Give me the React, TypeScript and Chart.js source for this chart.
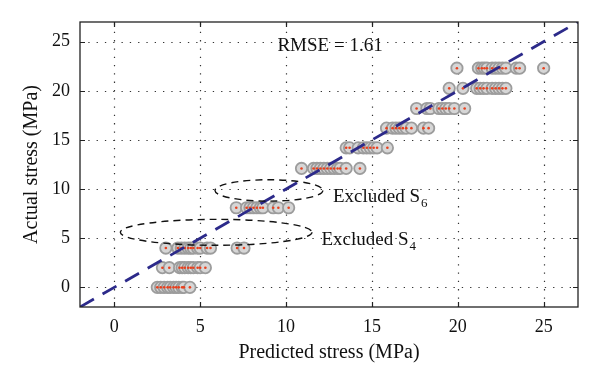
import React, { useEffect, useRef } from "react";
import { Chart, registerables } from "chart.js";

Chart.register(...registerables);

// ---- data ----
const xTicks = [0, 5, 10, 15, 20, 25];
const yTicks = [0, 5, 10, 15, 20, 25];
const axisMin = -2;
const axisMax = 27;

const actualLevels = [0, 2, 4, 8.1, 12.1, 14.2, 16.2, 18.2, 20.25, 22.3];
const predictedAt0 = [2.5, 2.7, 2.9, 3.1, 3.25, 3.45, 3.6, 3.75, 3.95, 4.05, 4.4];
const predictedAt2 = [2.8, 3.2, 3.8, 3.95, 4.1, 4.3, 4.45, 4.6, 4.85, 5.0, 5.3];
const predictedAt4 = [3.0, 3.7, 3.9, 4.1, 4.3, 4.45, 4.6, 4.85, 5.0, 5.4, 5.6, 7.15, 7.55];
const predictedAt8 = [7.1, 7.7, 7.9, 8.1, 8.3, 8.5, 8.65, 9.25, 9.55, 10.15];
const predictedAt12 = [10.9, 11.6, 11.8, 12.0, 12.2, 12.4, 12.6, 12.8, 13.0, 13.15, 13.5, 14.3];
const predictedAt14 = [13.5, 13.7, 14.2, 14.5, 14.7, 14.9, 15.1, 15.3, 15.9];
const predictedAt16 = [15.85, 16.2, 16.4, 16.6, 16.8, 17.0, 17.3, 18.0, 18.3];
const predictedAt18 = [17.6, 18.2, 18.4, 18.9, 19.1, 19.3, 19.5, 19.8, 20.4];
const predictedAt20 = [19.5, 20.3, 21.1, 21.3, 21.5, 21.7, 22.0, 22.2, 22.4, 22.6, 22.8];
const predictedAt22 = [19.95, 21.2, 21.4, 21.55, 21.7, 22.0, 22.2, 22.4, 22.6, 22.8, 23.4, 23.6, 25.0];
const predictedRows = [
  predictedAt0, predictedAt2, predictedAt4, predictedAt8, predictedAt12,
  predictedAt14, predictedAt16, predictedAt18, predictedAt20, predictedAt22,
];

const identityLine = [
  { x: axisMin, y: axisMin },
  { x: axisMax, y: axisMax },
];

const rmseText = "RMSE = 1.61";
const excludedLabel = "Excluded S";
const excludedS6Sub = "6";
const excludedS4Sub = "4";

// annotation geometry in data units
const ellipseS6 = { cx: 9.0, cy: 9.86, rx: 3.14, ry: 1.09 };
const ellipseS4 = { cx: 5.93, cy: 5.6, rx: 5.58, ry: 1.32 };
const rmsePos = { x: 12.56, y: 24.6 };
const s6LabelPos = { x: 12.73, y: 8.64 };
const s4LabelPos = { x: 12.06, y: 4.27 };

const FONT = "'Liberation Serif', 'DejaVu Serif', serif";

const points = predictedRows.flatMap((row, i) =>
  row.map((p) => ({ x: p, y: actualLevels[i] }))
);

const decorPlugin = {
  id: "decor",
  beforeDatasetsDraw(chart: any) {
    const { ctx, chartArea: a, scales } = chart;
    const xs = scales.x;
    const ys = scales.y;
    ctx.save();
    ctx.strokeStyle = "#333";
    ctx.lineWidth = 1.2;
    ctx.setLineDash([1.3, 7]);
    xTicks.forEach((v) => {
      const px = Math.round(xs.getPixelForValue(v)) + 0.5;
      ctx.beginPath();
      ctx.moveTo(px, a.bottom);
      ctx.lineTo(px, a.top);
      ctx.stroke();
    });
    yTicks.forEach((v) => {
      const py = Math.round(ys.getPixelForValue(v)) + 0.5;
      ctx.beginPath();
      ctx.moveTo(a.left, py);
      ctx.lineTo(a.right, py);
      ctx.stroke();
    });
    ctx.restore();
  },
  afterDatasetsDraw(chart: any) {
    const { ctx, chartArea: a, scales } = chart;
    const xs = scales.x;
    const ys = scales.y;
    ctx.save();
    // ellipses
    ctx.strokeStyle = "#111";
    ctx.lineWidth = 1.4;
    ctx.setLineDash([7, 5]);
    [ellipseS6, ellipseS4].forEach((e) => {
      const cx = xs.getPixelForValue(e.cx);
      const cy = ys.getPixelForValue(e.cy);
      const rx = Math.abs(xs.getPixelForValue(e.cx + e.rx) - cx);
      const ry = Math.abs(ys.getPixelForValue(e.cy + e.ry) - cy);
      ctx.beginPath();
      ctx.ellipse(cx, cy, rx, ry, 0, 0, Math.PI * 2);
      ctx.stroke();
    });
    ctx.setLineDash([]);
    // frame
    ctx.strokeStyle = "#222";
    ctx.lineWidth = 1.3;
    ctx.strokeRect(a.left, a.top, a.right - a.left, a.bottom - a.top);
    // inward ticks
    const tl = 5;
    ctx.lineWidth = 1.2;
    xTicks.forEach((v) => {
      const px = Math.round(xs.getPixelForValue(v)) + 0.5;
      ctx.beginPath();
      ctx.moveTo(px, a.bottom);
      ctx.lineTo(px, a.bottom - tl);
      ctx.moveTo(px, a.top);
      ctx.lineTo(px, a.top + tl);
      ctx.stroke();
    });
    yTicks.forEach((v) => {
      const py = Math.round(ys.getPixelForValue(v)) + 0.5;
      ctx.beginPath();
      ctx.moveTo(a.left, py);
      ctx.lineTo(a.left + tl, py);
      ctx.moveTo(a.right, py);
      ctx.lineTo(a.right - tl, py);
      ctx.stroke();
    });
    // texts
    ctx.fillStyle = "#111";
    ctx.font = `19px ${FONT}`;
    ctx.textAlign = "center";
    ctx.textBaseline = "middle";
    ctx.fillText(rmseText, xs.getPixelForValue(rmsePos.x), ys.getPixelForValue(rmsePos.y));
    ctx.textAlign = "left";
    ctx.textBaseline = "alphabetic";
    const drawSub = (pos: { x: number; y: number }, sub: string) => {
      const px = xs.getPixelForValue(pos.x);
      const py = ys.getPixelForValue(pos.y);
      ctx.font = `19px ${FONT}`;
      ctx.fillText(excludedLabel, px, py);
      const w = ctx.measureText(excludedLabel).width;
      ctx.font = `13px ${FONT}`;
      ctx.fillText(sub, px + w + 1, py + 5);
    };
    drawSub(s6LabelPos, excludedS6Sub);
    drawSub(s4LabelPos, excludedS4Sub);
    ctx.restore();
  },
};

export default function App() {
  const canvasRef = useRef<HTMLCanvasElement | null>(null);

  useEffect(() => {
    if (!canvasRef.current) return;
    const tickFont = { family: FONT, size: 18 };
    const titleFont = { family: FONT, size: 20, lineHeight: 1.2 };
    const chart = new Chart(canvasRef.current, {
      type: "scatter",
      data: {
        datasets: [
          {
            type: "line",
            data: identityLine,
            borderColor: "#2c2a8a",
            borderWidth: 2.8,
            borderDash: [16, 10],
            pointRadius: 0,
            fill: false,
            order: 0,
          } as any,
          {
            data: points,
            pointRadius: 1.3,
            pointBackgroundColor: "#e8401e",
            pointBorderWidth: 0,
            order: 1,
          },
          {
            data: points,
            pointRadius: 5.7,
            pointBackgroundColor: "#d6d6d6",
            pointBorderColor: "#9c9c9c",
            pointBorderWidth: 1.8,
            order: 2,
          },
        ],
      },
      options: {
        animation: false,
        responsive: false,
        devicePixelRatio: 1,
        layout: { padding: { top: 22, right: 22, left: 0, bottom: 0 } },
        plugins: { legend: { display: false }, tooltip: { enabled: false } },
        scales: {
          x: {
            type: "linear",
            min: axisMin,
            max: axisMax,
            grid: { display: false },
            border: { display: false },
            afterBuildTicks: (s: any) => {
              s.ticks = xTicks.map((v) => ({ value: v }));
            },
            afterFit: (s: any) => {
              s.height = 79;
            },
            ticks: { font: tickFont, color: "#111", padding: 1, maxRotation: 0, autoSkip: false },
            title: {
              display: true,
              text: "Predicted stress (MPa)",
              font: titleFont,
              color: "#111",
              padding: { top: 0, bottom: 21 },
            },
          },
          y: {
            type: "linear",
            min: axisMin,
            max: axisMax,
            grid: { display: false },
            border: { display: false },
            afterBuildTicks: (s: any) => {
              s.ticks = yTicks.map((v) => ({ value: v }));
            },
            afterFit: (s: any) => {
              s.width = 80;
            },
            ticks: { font: tickFont, color: "#111", padding: 2, autoSkip: false },
            title: {
              display: true,
              text: "Actual stress (MPa)",
              font: titleFont,
              color: "#111",
              padding: { top: 20, bottom: 0 },
            },
          },
        },
      } as any,
      plugins: [decorPlugin],
    });
    return () => chart.destroy();
  }, []);

  return (
    <div style={{ position: "absolute", left: 0, top: 0, width: 600, height: 386, background: "#fff" }}>
      <canvas ref={canvasRef} width={600} height={386} />
    </div>
  );
}
